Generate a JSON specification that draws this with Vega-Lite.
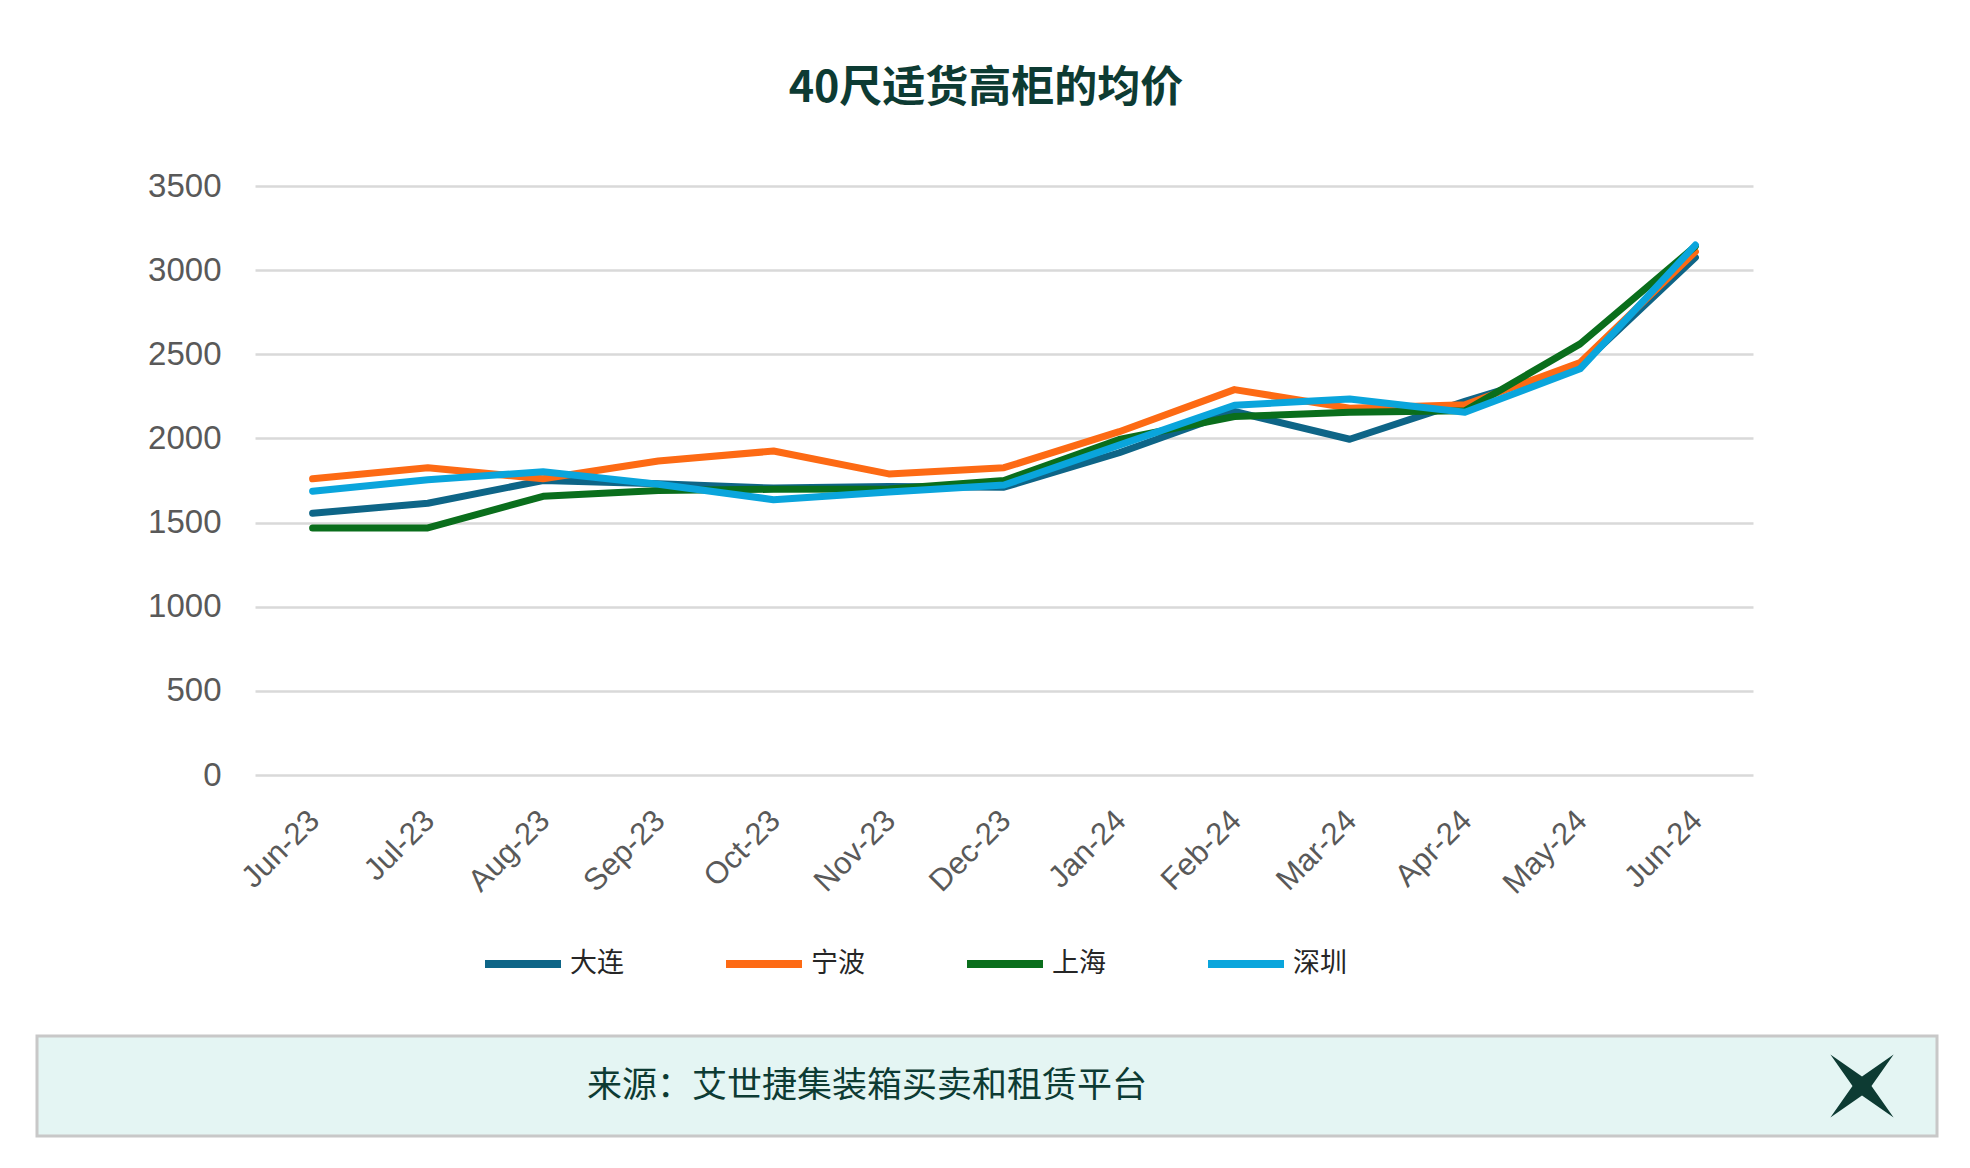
{
  "$schema": "https://vega.github.io/schema/vega-lite/v6.json",
  "background": "white",
  "padding": {"left": 35, "top": 68, "right": 35, "bottom": 20},
  "datasets": {
    "prices": [
      {"month": "Jun-23", "city": "大连", "price": 1555},
      {"month": "Jul-23", "city": "大连", "price": 1615},
      {"month": "Aug-23", "city": "大连", "price": 1750},
      {"month": "Sep-23", "city": "大连", "price": 1730},
      {"month": "Oct-23", "city": "大连", "price": 1705},
      {"month": "Nov-23", "city": "大连", "price": 1715},
      {"month": "Dec-23", "city": "大连", "price": 1710},
      {"month": "Jan-24", "city": "大连", "price": 1915},
      {"month": "Feb-24", "city": "大连", "price": 2160},
      {"month": "Mar-24", "city": "大连", "price": 1995},
      {"month": "Apr-24", "city": "大连", "price": 2220},
      {"month": "May-24", "city": "大连", "price": 2430},
      {"month": "Jun-24", "city": "大连", "price": 3075},
      {"month": "Jun-23", "city": "宁波", "price": 1760},
      {"month": "Jul-23", "city": "宁波", "price": 1826},
      {"month": "Aug-23", "city": "宁波", "price": 1760},
      {"month": "Sep-23", "city": "宁波", "price": 1866},
      {"month": "Oct-23", "city": "宁波", "price": 1925},
      {"month": "Nov-23", "city": "宁波", "price": 1789},
      {"month": "Dec-23", "city": "宁波", "price": 1826},
      {"month": "Jan-24", "city": "宁波", "price": 2040},
      {"month": "Feb-24", "city": "宁波", "price": 2290},
      {"month": "Mar-24", "city": "宁波", "price": 2180},
      {"month": "Apr-24", "city": "宁波", "price": 2200},
      {"month": "May-24", "city": "宁波", "price": 2451},
      {"month": "Jun-24", "city": "宁波", "price": 3110},
      {"month": "Jun-23", "city": "上海", "price": 1468},
      {"month": "Jul-23", "city": "上海", "price": 1468},
      {"month": "Aug-23", "city": "上海", "price": 1656},
      {"month": "Sep-23", "city": "上海", "price": 1690},
      {"month": "Oct-23", "city": "上海", "price": 1698},
      {"month": "Nov-23", "city": "上海", "price": 1700},
      {"month": "Dec-23", "city": "上海", "price": 1750},
      {"month": "Jan-24", "city": "上海", "price": 1994},
      {"month": "Feb-24", "city": "上海", "price": 2130},
      {"month": "Mar-24", "city": "上海", "price": 2155},
      {"month": "Apr-24", "city": "上海", "price": 2165},
      {"month": "May-24", "city": "上海", "price": 2562},
      {"month": "Jun-24", "city": "上海", "price": 3142},
      {"month": "Jun-23", "city": "深圳", "price": 1686},
      {"month": "Jul-23", "city": "深圳", "price": 1755},
      {"month": "Aug-23", "city": "深圳", "price": 1802},
      {"month": "Sep-23", "city": "深圳", "price": 1728},
      {"month": "Oct-23", "city": "深圳", "price": 1636},
      {"month": "Nov-23", "city": "深圳", "price": 1681},
      {"month": "Dec-23", "city": "深圳", "price": 1723},
      {"month": "Jan-24", "city": "深圳", "price": 1960},
      {"month": "Feb-24", "city": "深圳", "price": 2197},
      {"month": "Mar-24", "city": "深圳", "price": 2234},
      {"month": "Apr-24", "city": "深圳", "price": 2155},
      {"month": "May-24", "city": "深圳", "price": 2414},
      {"month": "Jun-24", "city": "深圳", "price": 3149}
    ],
    "footer": [
      {"item": "source", "label": "来源：艾世捷集装箱买卖和租赁平台"},
      {"item": "logo", "label": ""}
    ]
  },
  "spacing": 134,
  "vconcat": [
    {
      "spacing": 0,
      "hconcat": [
        {
          "width": 1,
          "height": 589,
          "data": {"values": []},
          "view": {"stroke": null},
          "mark": {"type": "point", "opacity": 0}
        },
        {
          "width": 1498,
          "height": 589,
          "title": {
            "text": "40尺适货高柜的均价",
            "font": "Noto Sans CJK SC",
            "fontSize": 43,
            "fontWeight": "bold",
            "color": "#0d3b33",
            "anchor": "middle",
            "dx": -18,
            "offset": 59
          },
          "data": {"name": "prices"},
          "view": {"stroke": null},
          "mark": {"type": "line", "strokeWidth": 7, "strokeJoin": "round", "strokeCap": "round"},
          "encoding": {
            "x": {
              "field": "month",
              "type": "ordinal",
              "sort": null,
              "scale": {"type": "point", "padding": 0.5},
              "title": null,
              "axis": {
                "labelAngle": -45,
                "labelFont": "Liberation Sans",
                "labelFontSize": 31,
                "labelColor": "#595959",
                "labelPadding": 30,
                "labelOffset": -9,
                "domain": false,
                "ticks": false,
                "grid": false
              }
            },
            "y": {
              "field": "price",
              "type": "quantitative",
              "scale": {"domain": [0, 3500]},
              "title": null,
              "axis": {
                "values": [0, 500, 1000, 1500, 2000, 2500, 3000, 3500],
                "format": "d",
                "labelFont": "Liberation Sans",
                "labelFontSize": 33,
                "labelColor": "#595959",
                "labelPadding": 34,
                "minExtent": 217,
                "domain": false,
                "ticks": false,
                "grid": true,
                "gridColor": "#d9d9d9",
                "gridWidth": 2.5
              }
            },
            "color": {
              "field": "city",
              "type": "nominal",
              "scale": {
                "domain": ["大连", "宁波", "上海", "深圳"],
                "range": ["#0e6587", "#fd6a14", "#0a6e1c", "#0aa5dc"]
              },
              "legend": {
                "orient": "none",
                "legendX": 444,
                "legendY": 736,
                "direction": "horizontal",
                "title": null,
                "symbolType": "stroke",
                "symbolStrokeWidth": 8,
                "symbolSize": 5776,
                "labelFont": "Noto Sans CJK SC",
                "labelFontSize": 27,
                "labelColor": "#262626",
                "labelOffset": 5,
                "columnPadding": 86
              }
            }
          }
        }
      ]
    },
    {
      "width": 1900,
      "height": 100,
      "data": {"name": "footer"},
      "view": {"fill": "#e4f5f3", "stroke": "#c8c8c8", "strokeWidth": 3},
      "encoding": {
        "x": {
          "field": "item",
          "type": "nominal",
          "scale": {"type": "point", "domain": ["source", "logo"], "range": [830, 1825], "padding": 0},
          "axis": null
        }
      },
      "layer": [
        {
          "transform": [{"filter": "datum.item === 'source'"}],
          "mark": {"type": "text", "font": "Noto Sans CJK SC", "fontSize": 35, "color": "#0d3b33"},
          "encoding": {"text": {"field": "label"}}
        },
        {
          "transform": [{"filter": "datum.item === 'logo'"}],
          "mark": {
            "type": "point",
            "shape": "M-1,-1 L0,-0.3 L1,-1 L0.3,0 L1,1 L0,0.3 L-1,1 L-0.3,0 Z",
            "filled": true,
            "color": "#0d3b33",
            "opacity": 1,
            "size": 4000
          }
        }
      ]
    }
  ]
}
